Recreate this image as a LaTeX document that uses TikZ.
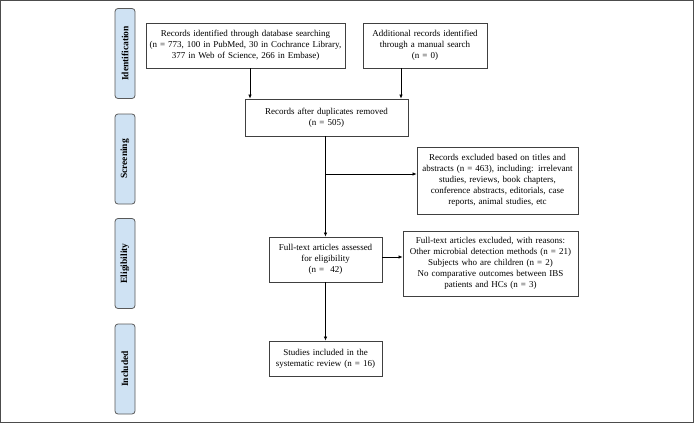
\documentclass[tikz,border=0pt]{standalone}
\usepackage{fontspec}
\setmainfont{Liberation Serif}
\usetikzlibrary{arrows.meta}
\definecolor{sidefill}{RGB}{207,226,243}
\begin{document}
\begin{tikzpicture}[x=1pt,y=-1pt,
  box/.style={draw=black!75,line width=0.8pt,fill=white,align=center,inner sep=2pt,
    font=\fontsize{9}{11}\selectfont},
  side/.style={draw=black!65,line width=0.8pt,fill=sidefill,rounded corners=3pt,
    minimum width=90pt,minimum height=20pt,inner sep=1pt,rotate=90,
    font=\fontsize{9.5}{11}\selectfont\bfseries},
  arr/.style={line width=0.7pt,-{Latex[length=4pt,width=3.5pt]}},
  ln/.style={line width=0.7pt}]
\useasboundingbox (0,0) rectangle (694,423);
\draw[black!70,line width=1pt] (0.5,0.5) rectangle (693.5,422.5);
\node[side] (sid) at (125,53.5) {Identification};
\node[side] (sscr) at (125,159) {Screening};
\node[side] (sel) at (125,263.5) {Eligibility};
\node[side] (sinc) at (125,369) {Included};
\node[box,text width=195pt,minimum height=45pt] (b1) at (245.5,45.5)
  {Records identified through database searching\\(n = 773, 100 in PubMed, 30 in Cochrance Library,\\377 in Web of Science, 266 in Embase)};
\node[box,text width=120pt,minimum height=45pt] (b2) at (425,45.5)
  {Additional records identified\\through a manual search\\(n = 0)};
\node[box,text width=159pt,minimum height=37pt] (dup) at (326.5,117.5)
  {Records after duplicates removed\\(n = 505)};
\node[box,text width=157pt,minimum height=67pt] (ex1) at (497.5,180.5)
  {Records excluded based on titles and\\abstracts (n = 463), including: irrelevant\\studies, reviews, book chapters,\\conference abstracts, editorials, case\\reports, animal studies, etc};
\node[box,text width=109pt,minimum height=45pt] (el) at (325.5,259.5)
  {Full-text articles assessed\\for eligibility\\(n =\ \ 42)};
\node[box,text width=171pt,minimum height=65pt] (ex2) at (490.5,263.5)
  {Full-text articles excluded, with reasons:\\Other microbial detection methods (n = 21)\\Subjects who are children (n = 2)\\No comparative outcomes between IBS\\patients and HCs (n = 3)};
\node[box,text width=109pt,minimum height=35pt] (inc) at (325.5,358.5)
  {Studies included in the\\systematic review (n = 16)};
\draw[arr] ([xshift=4.5pt]b1.south) -- ([xshift=4.5pt]b1.south |- dup.north);
\draw[arr] ([xshift=-24pt]b2.south) -- ([xshift=-24pt]b2.south |- dup.north);
\draw[arr] (dup.south -| el.north) -- (el.north);
\coordinate (br) at (325.5,174);
\draw[arr] (br) -- (br -| ex1.west);
\draw[arr] ([yshift=2.5pt]el.east) -- ([yshift=2.5pt]el.east -| ex2.west);
\draw[arr] (el.south) -- (inc.north);
\end{tikzpicture}
\end{document}
